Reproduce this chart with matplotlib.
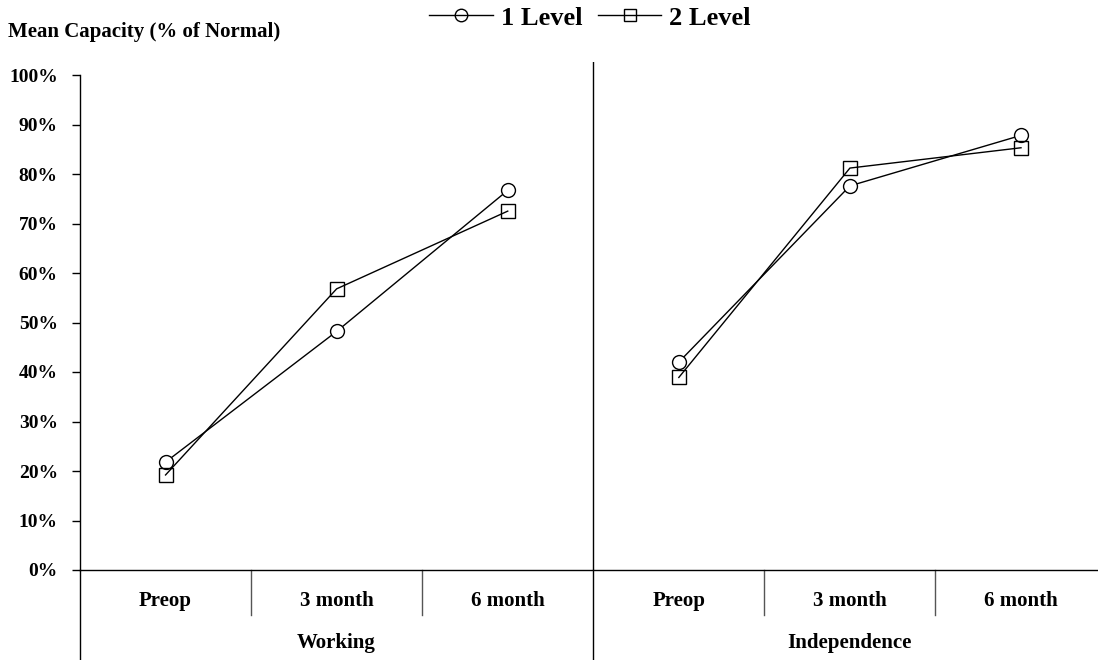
import matplotlib
matplotlib.use("Agg")
import matplotlib.pyplot as plt
from matplotlib.lines import Line2D

plt.rcParams["font.family"] = ["Liberation Serif", "DejaVu Serif"]
plt.rcParams["font.weight"] = "bold"

# Data (% of normal)
groups = ["Working", "Independence"]
timepoints = ["Preop", "3 month", "6 month"]
level1 = {"Working": [21.8, 48.2, 76.7], "Independence": [42.0, 77.6, 87.8]}
level2 = {"Working": [19.2, 56.8, 72.5], "Independence": [38.9, 81.2, 85.3]}
yticks = list(range(0, 101, 10))

fig = plt.figure(figsize=(10.98, 6.6), dpi=100)
ax = fig.add_axes([80 / 1098, 90 / 660, 1 - 80 / 1098, 508 / 660])

ax_h = 508.0
for gi, g in enumerate(groups):
    xs = [gi * 3 + i + 0.5 for i in range(3)]
    ax.plot(xs, level1[g], color="black", lw=1, marker="o", ms=10,
            mfc="white", mec="black", mew=1, zorder=3)
    ax.plot(xs, level2[g], color="black", lw=1, marker="s", ms=10,
            mfc="none", mec="black", mew=1, zorder=3)

ax.set_xlim(0, 5.95)
ax.set_ylim(0, 100 * 508 / 495)

# spines
for s in ["top", "right"]:
    ax.spines[s].set_visible(False)
ax.spines["left"].set_bounds(0, 100)
ax.spines["left"].set_linewidth(1)
ax.spines["bottom"].set_linewidth(1)

ax.set_xticks([])
ax.set_yticks(yticks)
ax.set_yticklabels([f"{v}%" for v in yticks], fontsize=14, fontweight="bold")
ax.tick_params(axis="y", direction="out", length=6, width=1, pad=10)

# group divider and category separators
trans = ax.get_xaxis_transform()
ax.axvline(3, color="black", lw=1)
ax.plot([3, 3], [0, -90 / ax_h], color="black", lw=1, transform=trans, clip_on=False)
ax.plot([0, 0], [0, -90 / ax_h], color="black", lw=1, transform=trans, clip_on=False)
for x in [1, 2, 4, 5]:
    ax.plot([x, x], [0, -45 / ax_h], color="#555555", lw=1, transform=trans, clip_on=False)

for gi, g in enumerate(groups):
    for i, t in enumerate(timepoints):
        ax.text(gi * 3 + i + 0.5, -31 / ax_h, t, transform=trans, ha="center",
                va="center", fontsize=15, fontweight="bold")
    ax.text(gi * 3 + 1.5, -73 / ax_h, g, transform=trans, ha="center",
            va="center", fontsize=15, fontweight="bold")

fig.text(8 / 1098, 1 - 32 / 660, "Mean Capacity (% of Normal)", ha="left",
         va="center", fontsize=15, fontweight="bold")

handles = [
    Line2D([], [], color="black", lw=1, marker="o", ms=9, mfc="none", mec="black"),
    Line2D([], [], color="black", lw=1, marker="s", ms=9, mfc="none", mec="black"),
]
fig.legend(handles, ["1 Level", "2 Level"], loc="center", bbox_to_anchor=(590 / 1098, 1 - 18 / 660),
           ncol=2, frameon=False, handlelength=2.4, handletextpad=0.3, columnspacing=0.6,
           prop={"size": 19, "weight": "bold"})

fig.savefig("out.png", dpi=100)
